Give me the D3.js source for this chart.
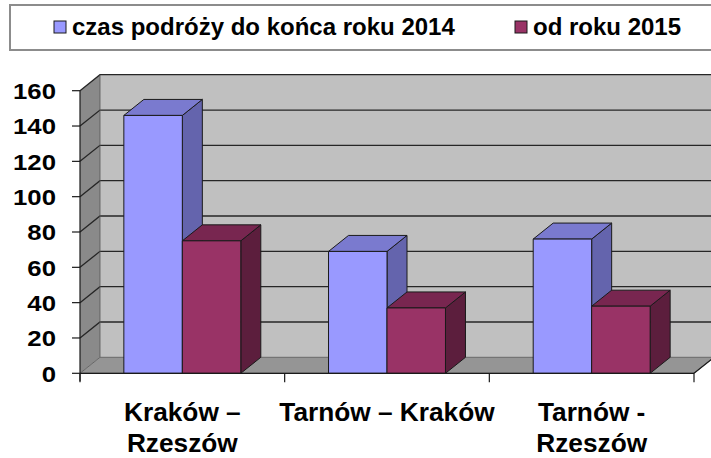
<!DOCTYPE html>
<meta charset="utf-8">
<style>
  body { margin: 0; background: #fff; }
  text { font-family: "Liberation Sans", Arial, sans-serif; font-weight: bold; fill: #000; }
</style>
<body>
<script src="https://cdn.jsdelivr.net/npm/d3@7"></script>
<script>

var categories = ["Kraków –\nRzeszów", "Tarnów – Kraków", "Tarnów -\nRzeszów"];
var series = ["czas podróży do końca roku 2014", "od roku 2015"];
var until2014 = [146, 69, 76];
var from2015 = [75, 37, 38];
var yTicks = [0, 20, 40, 60, 80, 100, 120, 140, 160];

var width = 711, height = 458;
var colors = [
  {front: "#9999ff", top: "#7a7acf", side: "#6464ad"},   // blue
  {front: "#993366", top: "#782650", side: "#5c1e3d"}    // plum
];
var dx = 20, dy = -16;   // depth of the 3d box

var svg = d3.select("body").append("svg")
  .attr("width", width)
  .attr("height", height);

var x = d3.scaleBand().domain(categories).range([80, 694]);
var xs = d3.scaleBand().domain(series).range([0, x.bandwidth()])
  .paddingInner(0).paddingOuter(0.75);
var y = d3.scaleLinear().domain([0, 160]).range([373.3, 90.7]);

var x0 = x.range()[0], x1 = x.range()[1];
var yTop = y(160), yBot = y(0);

// walls
svg.append("polygon")
  .attr("points", [[x0 + dx, yTop + dy], [width + 5, yTop + dy], [width + 5, yBot + dy], [x0 + dx, yBot + dy]].join(" "))
  .attr("fill", "#c0c0c0");
svg.append("polygon")
  .attr("points", [[x0, yTop], [x0 + dx, yTop + dy], [x0 + dx, yBot + dy], [x0, yBot]].join(" "))
  .attr("fill", "#8a8a8a");

// gridlines on back and side wall
var grid = svg.append("g").attr("stroke", "#262626").attr("stroke-width", 1.3).attr("fill", "none");
yTicks.forEach(function(t) {
  if (t === 0) return;
  grid.append("polyline")
    .attr("points", [[x0, y(t)], [x0 + dx, y(t) + dy], [width + 5, y(t) + dy]].join(" "));
});
grid.append("line")
  .attr("x1", x0 + dx).attr("x2", x0 + dx).attr("y1", yTop + dy).attr("y2", yBot + dy)
  .attr("stroke", "#555").attr("stroke-width", 0.8);

// floor
svg.append("polygon")
  .attr("points", [[x0, yBot], [x0 + dx, yBot + dy], [x1 + dx, yBot + dy], [x1, yBot]].join(" "))
  .attr("fill", "#959595")
  .attr("stroke", "#555").attr("stroke-width", 0.8);

// bars
var rows = categories.map(function(c, i) {
  return [{cat: c, s: series[0], v: until2014[i], k: 0},
          {cat: c, s: series[1], v: from2015[i], k: 1}];
});

var bars = svg.append("g").selectAll("g")
  .data(d3.merge(rows))
  .enter().append("g")
  .attr("stroke", "#1a1a1a").attr("stroke-width", 1).attr("stroke-linejoin", "round");

bars.each(function(d) {
  var g = d3.select(this);
  var l = x(d.cat) + xs(d.s), r = l + xs.bandwidth(), t = y(d.v);
  g.append("polygon")
    .attr("points", [[r, t], [r + dx, t + dy], [r + dx, yBot + dy], [r, yBot]].join(" "))
    .attr("fill", colors[d.k].side);
  g.append("polygon")
    .attr("points", [[l, t], [l + dx, t + dy], [r + dx, t + dy], [r, t]].join(" "))
    .attr("fill", colors[d.k].top);
  g.append("rect")
    .attr("x", l).attr("y", t).attr("width", r - l).attr("height", yBot - t)
    .attr("fill", colors[d.k].front);
});

// y axis
var axis = svg.append("g").attr("stroke", "#1a1a1a").attr("stroke-width", 1.2);
axis.append("line").attr("x1", x0).attr("x2", x0).attr("y1", yTop).attr("y2", yBot + 8);
axis.selectAll(".yt").data(yTicks).enter().append("line")
  .attr("x1", x0 - 8).attr("x2", x0).attr("y1", function(d) { return y(d); }).attr("y2", function(d) { return y(d); });
axis.append("line").attr("x1", x0).attr("x2", x1).attr("y1", yBot).attr("y2", yBot);
axis.selectAll(".xt").data(categories.concat([null])).enter().append("line")
  .attr("x1", function(d, i) { return x0 + i * x.step(); })
  .attr("x2", function(d, i) { return x0 + i * x.step(); })
  .attr("y1", yBot).attr("y2", yBot + 9);
axis.append("line").attr("x1", x1).attr("x2", x1 + dx).attr("y1", yBot).attr("y2", yBot + dy);

svg.append("g").selectAll("text").data(yTicks).enter().append("text")
  .attr("transform", function(d) { return "translate(56," + y(d) + ") scale(1.12,1)"; })
  .attr("text-anchor", "end")
  .attr("dy", "0.36em")
  .style("font-size", "23px")
  .text(function(d) { return d; });

// category labels
svg.append("g").selectAll("text").data(categories).enter().append("text")
  .attr("text-anchor", "middle")
  .style("font-size", "25px")
  .attr("transform", function(d) { return "translate(" + (x(d) + x.bandwidth() / 2) + ",421) scale(1.05,1)"; })
  .each(function(d) {
    var t = d3.select(this);
    d.split("\n").forEach(function(line, i) {
      t.append("tspan").attr("x", 0).attr("y", i * 31).text(line);
    });
  });

// legend
svg.append("rect")
  .attr("x", 10).attr("y", 5).attr("width", 720).attr("height", 45)
  .attr("fill", "#fff").attr("stroke", "#8c8c8c").attr("stroke-width", 2);

var legendX = [54, 515];
var lg = svg.append("g").selectAll("g").data(series).enter().append("g")
  .attr("transform", function(d, i) { return "translate(" + legendX[i] + ",0)"; });
lg.append("rect")
  .attr("x", 0).attr("y", 21).attr("width", 12).attr("height", 12)
  .attr("fill", function(d, i) { return colors[i].front; })
  .attr("stroke", "#1a1a1a").attr("stroke-width", 1);
lg.append("text")
  .attr("x", 18).attr("y", 35)
  .style("font-size", "24px")
  .text(function(d) { return d; });

</script>
</body>
